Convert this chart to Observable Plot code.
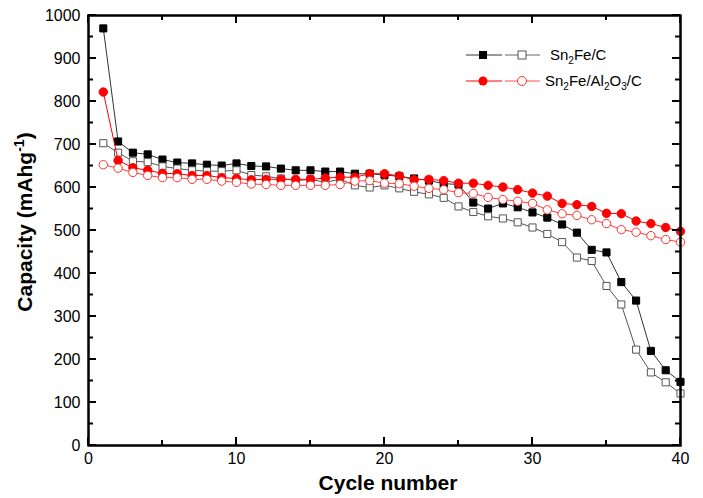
<!DOCTYPE html>
<html><head><meta charset="utf-8">
<script src="https://cdn.jsdelivr.net/npm/d3@7"></script>
<script src="https://cdn.jsdelivr.net/npm/@observablehq/plot@0.6"></script>
<style>body{margin:0;background:#fff} #chart{width:703px;height:498px}</style>
</head><body><div id="chart"></div>
<script>
const cycles = [1,2,3,4,5,6,7,8,9,10,11,12,13,14,15,16,17,18,19,20,21,22,23,24,25,26,27,28,29,30,31,32,33,34,35,36,37,38,39,40];
const sn2feFilled = [970,707,681,677,665,658,656,653,651,656,650,649,644,640,640,637,637,632,632,629,626,621,616,609,607,565,551,563,554,542,530,514,495,455,449,380,337,220,175,148];
const sn2feOpen = [703,681,661,659,649,644,640,638,638,640,629,626,621,616,619,612,619,605,600,605,598,590,584,576,556,543,533,528,519,507,492,473,437,429,371,328,223,170,147,121];
const al2o3Filled = [822,663,646,640,633,632,628,628,623,621,618,619,619,619,619,622,624,624,632,632,627,618,619,616,610,610,605,601,595,587,580,563,560,556,540,539,522,516,507,498];
const al2o3Open = [653,645,635,628,623,623,619,619,615,612,608,607,605,605,605,605,607,615,616,610,609,603,598,595,588,586,577,572,568,563,548,539,535,525,516,502,496,488,479,473];
const xMajor = [0,10,20,30,40];
const xMinor = [5,15,25,35];
const yMajor = [0,100,200,300,400,500,600,700,800,900,1000];
const yMinor = [50,150,250,350,450,550,650,750,850,950];

const W = 703, H = 498, ML = 88, MR = 23, MT = 15, MB = 53;
const toRows = vals => vals.map((v,i) => ({cycle: cycles[i], capacity: v}));
const font = "'Liberation Sans', Arial, sans-serif";

function series(vals, lineColor, symbol, r, fill, stroke) {
  const data = toRows(vals);
  return [
    Plot.line(data, {x: "cycle", y: "capacity", stroke: lineColor, strokeWidth: 1}),
    Plot.dot(data, {x: "cycle", y: "capacity", symbol, r, fill, stroke, strokeWidth: 1})
  ];
}

const svg = Plot.plot({
  width: W, height: H,
  marginLeft: ML, marginRight: MR, marginTop: MT, marginBottom: MB,
  style: {fontFamily: font, fontSize: "16px", color: "black", background: "white", overflow: "visible"},
  x: {domain: [0, 40]},
  y: {domain: [0, 1000]},
  marks: [
    Plot.axisX(xMajor, {anchor: "bottom", tickSize: 0, tickPadding: 7, label: null, fontSize: 16, tickFormat: d3.format("d")}),
    Plot.axisY(yMajor, {anchor: "left", tickSize: 0, tickPadding: 8, label: null, fontSize: 16, tickFormat: d3.format("d")}),
    ...series(sn2feFilled, "#333", "square", 4, "#000", "#000"),
    ...series(sn2feOpen, "#555", "square", 4, "#fff", "#555"),
    ...series(al2o3Filled, "#ff0000", "circle", 4.2, "#ff0000", "#ff0000"),
    ...series(al2o3Open, "#ff4040", "circle", 4.2, "#fff", "#ff3030"),
    Plot.frame({stroke: "#000", strokeWidth: 2.5})
  ]
});

const s = d3.select(svg);
const xs = v => svg.scale("x").apply(v);
const ys = v => svg.scale("y").apply(v);
const frameLeft = xs(0), frameRight = xs(40), frameBottom = ys(0), frameTop = ys(1000);
const tg = s.append("g").attr("stroke", "#000").attr("stroke-width", 2);
function xTickLines(ticks, len) {
  ticks.forEach(v => {
    tg.append("line").attr("x1", xs(v)).attr("x2", xs(v)).attr("y1", frameBottom).attr("y2", frameBottom - len);
    tg.append("line").attr("x1", xs(v)).attr("x2", xs(v)).attr("y1", frameTop).attr("y2", frameTop + len);
  });
}
function yTickLines(ticks, len) {
  ticks.forEach(v => {
    tg.append("line").attr("y1", ys(v)).attr("y2", ys(v)).attr("x1", frameLeft).attr("x2", frameLeft + len);
    tg.append("line").attr("y1", ys(v)).attr("y2", ys(v)).attr("x1", frameRight).attr("x2", frameRight - len);
  });
}
xTickLines(xMajor, 8);
xTickLines(xMinor, 5);
yTickLines(yMajor, 8);
yTickLines(yMinor, 5);

s.append("text").attr("x", 388).attr("y", 490).attr("text-anchor", "middle")
  .attr("font-family", font).attr("font-weight", "bold").attr("font-size", 21).attr("fill", "#000")
  .text("Cycle number");
const yt = s.append("text").attr("transform", "translate(32,222) rotate(-90)").attr("text-anchor", "middle")
  .attr("font-family", font).attr("font-weight", "bold").attr("font-size", 21).attr("fill", "#000");
yt.append("tspan").text("Capacity (mAhg");
yt.append("tspan").attr("font-size", 14).attr("dy", -8).text("-1");
yt.append("tspan").attr("dy", 8).text(")");

const lg = s.append("g").attr("font-family", font).attr("font-size", 15).attr("text-anchor", "start");
function legendRow(y, c1, c2, sym, fill1, stroke2, parts) {
  lg.append("line").attr("x1", 466).attr("x2", 502).attr("y1", y).attr("y2", y).attr("stroke", c1);
  lg.append("line").attr("x1", 505).attr("x2", 540).attr("y1", y).attr("y2", y).attr("stroke", c2);
  if (sym === "square") {
    lg.append("rect").attr("x", 479).attr("y", y - 4).attr("width", 8).attr("height", 8).attr("fill", fill1);
    lg.append("rect").attr("x", 518).attr("y", y - 4).attr("width", 8).attr("height", 8).attr("fill", "#fff").attr("stroke", stroke2);
  } else {
    lg.append("circle").attr("cx", 483).attr("cy", y).attr("r", 4.5).attr("fill", fill1);
    lg.append("circle").attr("cx", 522).attr("cy", y).attr("r", 4.5).attr("fill", "#fff").attr("stroke", stroke2);
  }
  const t = lg.append("text").attr("x", parts.x).attr("y", y + 5).attr("fill", "#000").attr("text-anchor", "start");
  let sub = false;
  parts.t.forEach(p => {
    const isSub = /^[0-9]$/.test(p);
    const ts = t.append("tspan").text(p);
    if (isSub && !sub) { ts.attr("font-size", 10).attr("dy", 4); sub = true; }
    else if (!isSub && sub) { ts.attr("dy", -4); sub = false; }
  });
}
legendRow(55, "#333", "#666", "square", "#000", "#555", {x: 550, t: ["Sn", "2", "Fe/C"]});
legendRow(81, "#ff0000", "#ff5050", "circle", "#ff0000", "#ff3030", {x: 545, t: ["Sn", "2", "Fe/Al", "2", "O", "3", "/C"]});

document.getElementById("chart").appendChild(svg);
</script></body></html>
